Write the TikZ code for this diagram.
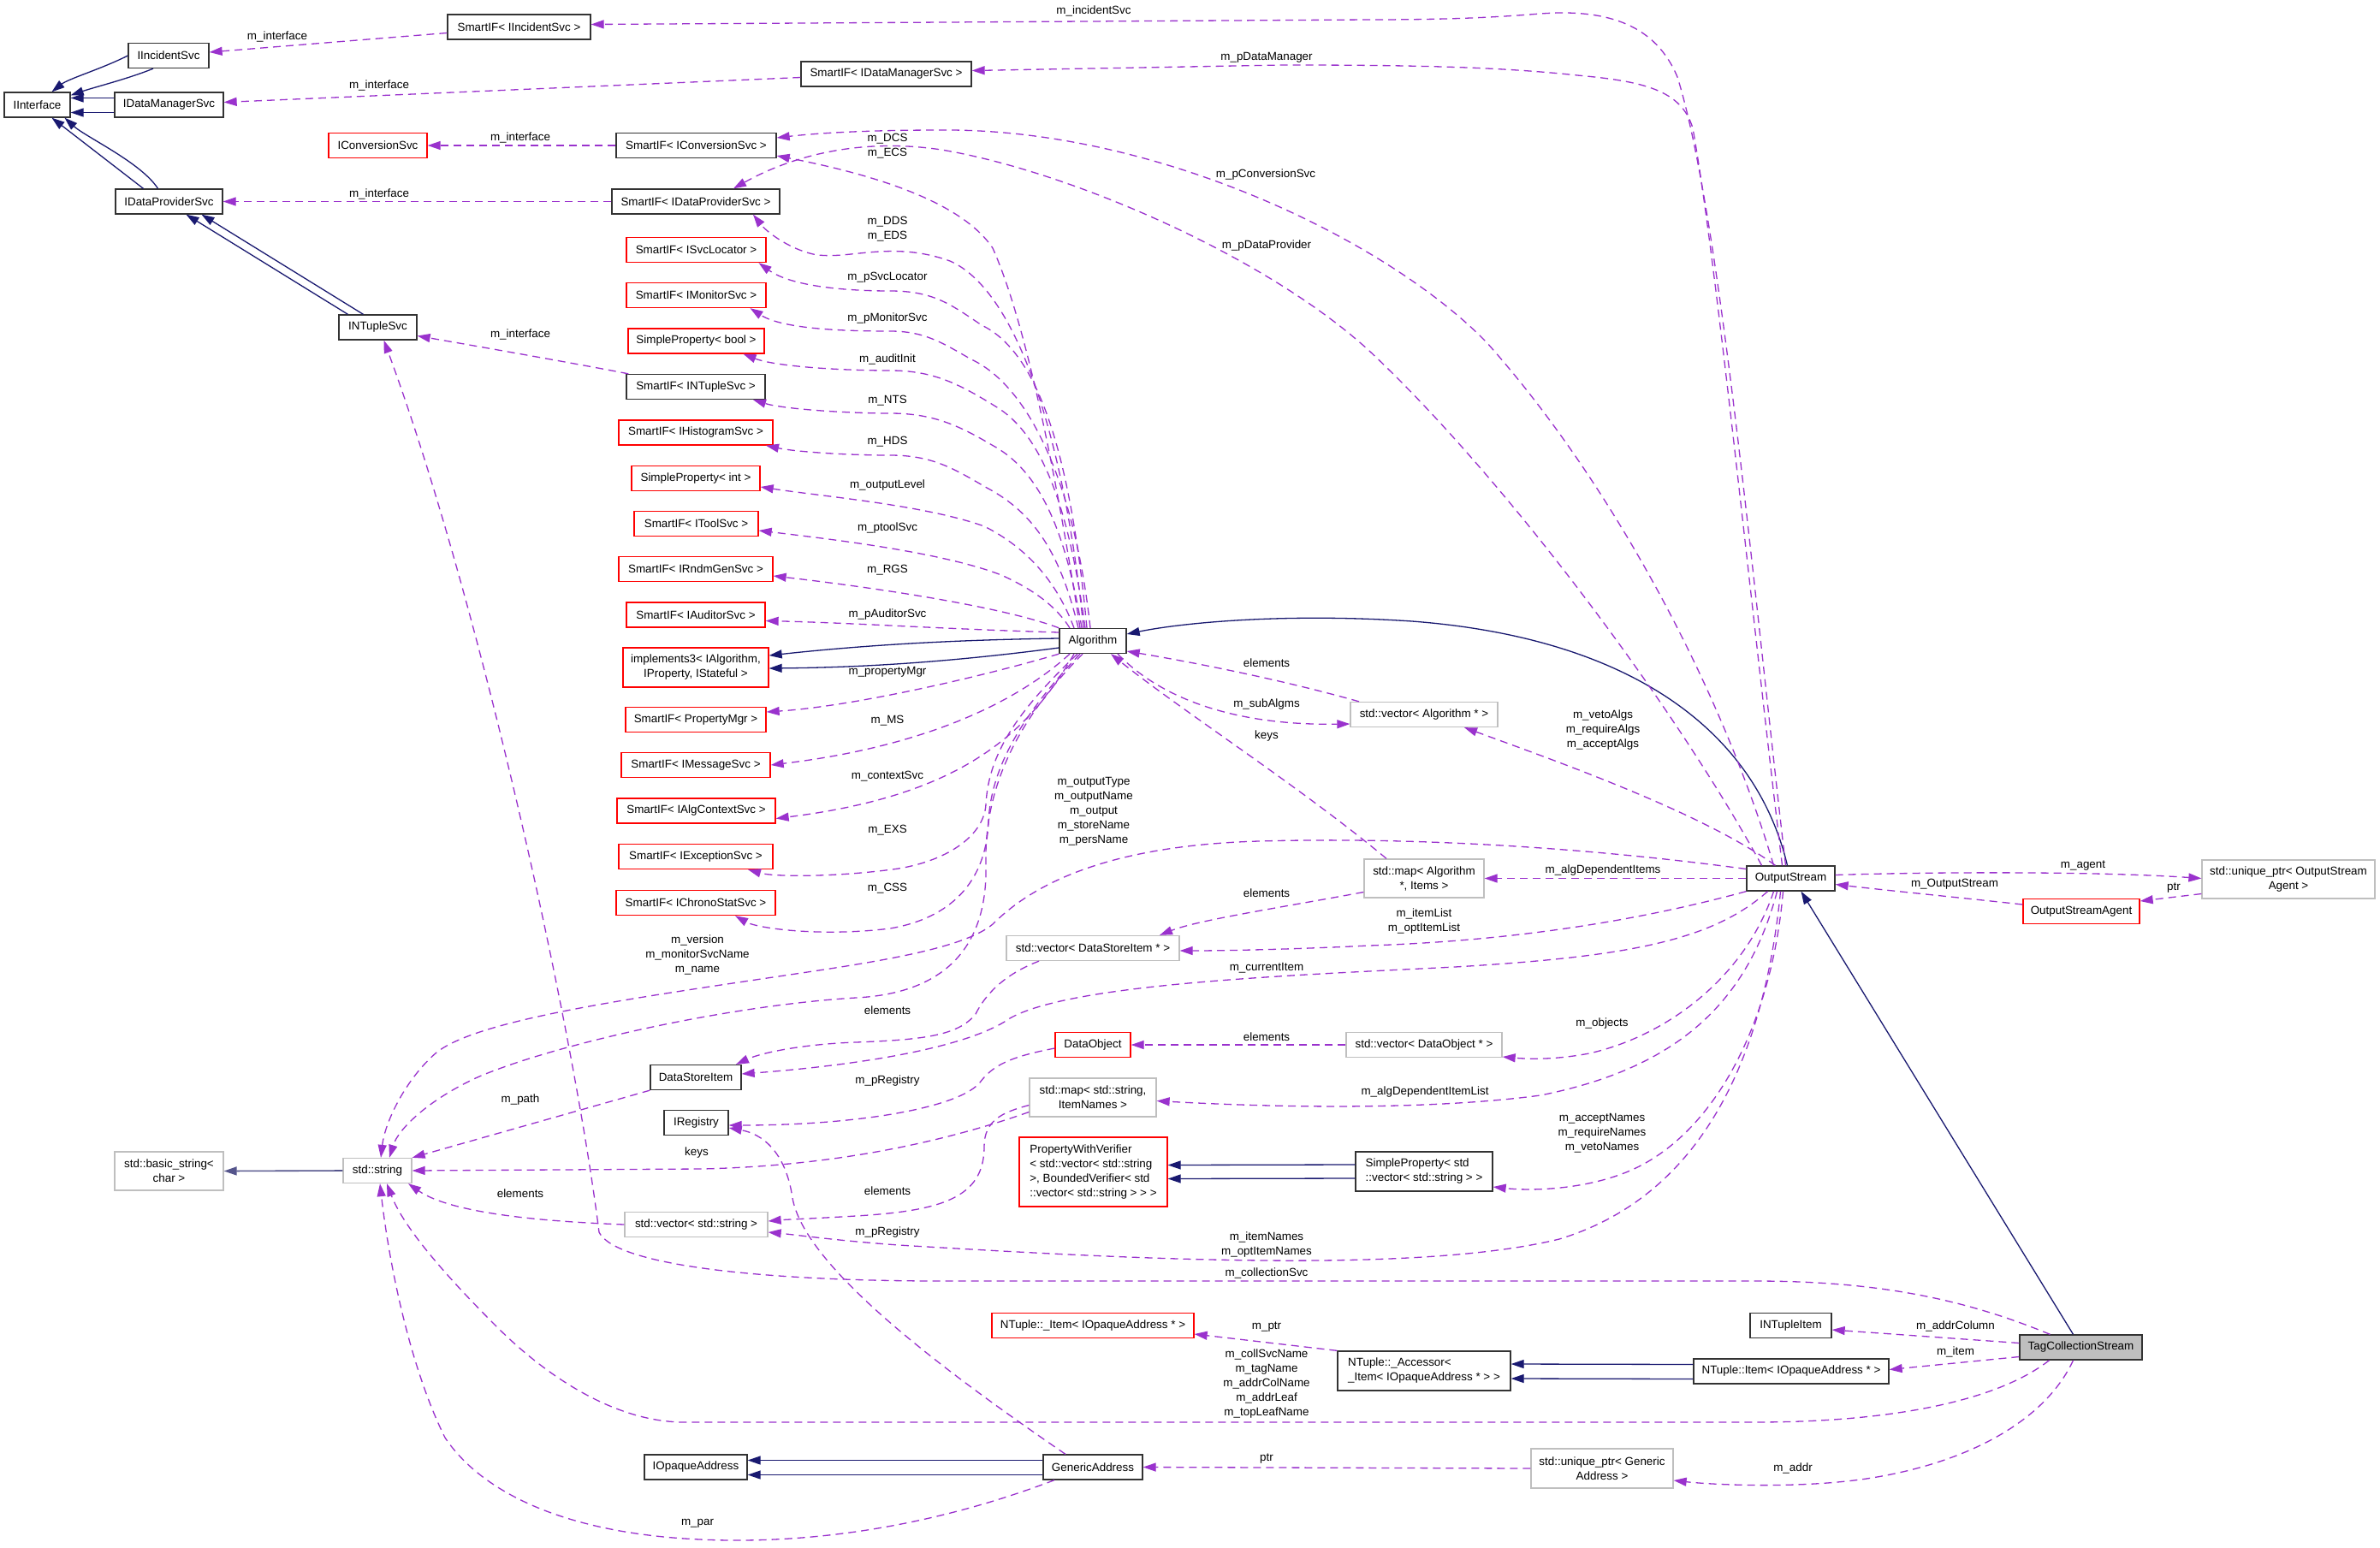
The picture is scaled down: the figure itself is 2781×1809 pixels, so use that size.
\documentclass[tikz,border=0pt]{standalone}
\usepackage{fontspec}
\setmainfont{Liberation Sans}
\usetikzlibrary{arrows.meta}
\definecolor{depc}{RGB}{154,50,205}
\definecolor{inhc}{RGB}{25,25,112}
\definecolor{strc}{RGB}{85,85,140}
\definecolor{graybd}{RGB}{191,191,191}
\definecolor{tcsfill}{RGB}{191,191,191}
\newcommand\dxfont{\fontsize{13.4pt}{17pt}\selectfont}
\begin{document}
\begin{tikzpicture}[x=1pt,y=-1pt,
  cls/.style={draw=black!80, line width=1.3pt, fill=white, inner sep=0pt, minimum height=29pt, font=\dxfont, align=center},
  redcls/.style={cls, draw=red},
  graycls/.style={cls, draw=graybd},
  dep/.style={draw=depc, line width=1.3pt, dash pattern=on 9pt off 6pt, -{Triangle[length=15pt,width=10pt]}},
  inh/.style={draw=inhc, line width=1.3pt, -{Triangle[length=15pt,width=10pt]}},
  lab/.style={font=\dxfont, inner sep=0pt, align=center},
]
\fill[white] (0,0) rectangle (2781,1809);
\useasboundingbox (0,0) rectangle (2781,1809);

% ---------------- nodes ----------------
\node[cls, minimum width=167pt] (sIncident) at (606.5,31.5) {SmartIF< IIncidentSvc >};
\node[cls, minimum width=94pt] (IIncidentSvc) at (197,65) {IIncidentSvc};
\node[cls, minimum width=77pt] (IInterface) at (43.5,122.5) {IInterface};
\node[cls, minimum width=127pt] (IDataManagerSvc) at (197.5,122.5) {IDataManagerSvc};
\node[cls, minimum width=199pt] (sDataManager) at (1035.5,86.5) {SmartIF< IDataManagerSvc >};
\node[redcls, minimum width=115pt] (IConversionSvc) at (441.5,170) {IConversionSvc};
\node[cls, minimum width=187pt] (sConversion) at (813.5,170) {SmartIF< IConversionSvc >};
\node[cls, minimum width=125pt] (IDataProviderSvc) at (197.5,235.5) {IDataProviderSvc};
\node[cls, minimum width=196pt] (sDataProvider) at (813,235.5) {SmartIF< IDataProviderSvc >};
\node[redcls, minimum width=163pt] (sSvcLocator) at (813.5,292) {SmartIF< ISvcLocator >};
\node[redcls, minimum width=163pt] (sMonitor) at (813.5,345) {SmartIF< IMonitorSvc >};
\node[redcls, minimum width=159pt] (spBool) at (813.5,398.5) {SimpleProperty< bool >};
\node[cls, minimum width=91pt] (INTupleSvc) at (441.5,382.5) {INTupleSvc};
\node[cls, minimum width=162pt] (sNTuple) at (813,452) {SmartIF< INTupleSvc >};
\node[redcls, minimum width=180pt] (sHisto) at (813,505.5) {SmartIF< IHistogramSvc >};
\node[redcls, minimum width=150pt] (spInt) at (813,559) {SimpleProperty< int >};
\node[redcls, minimum width=145pt] (sTool) at (813.5,612) {SmartIF< IToolSvc >};
\node[redcls, minimum width=180pt] (sRndm) at (813,665) {SmartIF< IRndmGenSvc >};
\node[redcls, minimum width=162pt] (sAuditor) at (813,718.5) {SmartIF< IAuditorSvc >};
\node[redcls, minimum width=170pt, minimum height=46pt] (impl3) at (813,780) {implements3< IAlgorithm,\\ IProperty, IStateful >};
\node[redcls, minimum width=164pt] (sPropMgr) at (813,841) {SmartIF< PropertyMgr >};
\node[redcls, minimum width=174pt] (sMessage) at (813,894) {SmartIF< IMessageSvc >};
\node[redcls, minimum width=185pt] (sAlgCtx) at (813.5,947.5) {SmartIF< IAlgContextSvc >};
\node[redcls, minimum width=180pt] (sExcept) at (813,1001) {SmartIF< IExceptionSvc >};
\node[redcls, minimum width=186pt] (sChrono) at (813,1055) {SmartIF< IChronoStatSvc >};
\node[cls, minimum width=78pt] (Algorithm) at (1277,749) {Algorithm};
\node[graycls, minimum width=172pt] (vecAlg) at (1664,835) {std::vector< Algorithm * >};
\node[graycls, minimum width=140pt, minimum height=45pt] (mapAlg) at (1664,1026.5) {std::map< Algorithm\\ *, Items >};
\node[cls, minimum width=103pt] (OutputStream) at (2092.5,1026.5) {OutputStream};
\node[graycls, minimum width=202pt, minimum height=45pt] (uOSA) at (2674,1027.5) {std::unique\_ptr< OutputStream\\ Agent >};
\node[redcls, minimum width=136pt] (OSAgent) at (2432,1065) {OutputStreamAgent};
\node[graycls, minimum width=202pt] (vecDSI) at (1277,1108) {std::vector< DataStoreItem * >};
\node[redcls, minimum width=88pt] (DataObject) at (1277,1221) {DataObject};
\node[graycls, minimum width=182pt] (vecDO) at (1664,1221) {std::vector< DataObject * >};
\node[graycls, minimum width=148pt, minimum height=45pt] (mapStr) at (1277,1282.5) {std::map< std::string,\\ ItemNames >};
\node[redcls, minimum width=173pt, minimum height=81pt, align=left] (PWV) at (1277.5,1369.5) {PropertyWithVerifier\\< std::vector< std::string\\>, BoundedVerifier< std\\::vector< std::string > > >};
\node[cls, minimum width=160pt, minimum height=46pt, align=left] (spVec) at (1664,1369) {SimpleProperty< std\\::vector< std::string > >};
\node[redcls, minimum width=236pt] (NItemP) at (1277,1549) {NTuple::\_Item< IOpaqueAddress * >};
\node[cls, minimum width=202pt, minimum height=46pt, align=left] (NAccessor) at (1664,1602) {NTuple::\_Accessor<\\ \_Item< IOpaqueAddress * > >};
\node[cls, minimum width=116pt] (GenericAddress) at (1277,1714.5) {GenericAddress};
\node[graycls, minimum width=166pt, minimum height=46pt] (uGA) at (1872,1716) {std::unique\_ptr< Generic\\ Address >};
\node[cls, minimum width=95pt] (INTupleItem) at (2092.5,1549) {INTupleItem};
\node[cls, minimum width=228pt] (NItem) at (2093,1602.5) {NTuple::Item< IOpaqueAddress * >};
\node[cls, minimum width=143pt, fill=tcsfill] (TCS) at (2431.5,1574.5) {TagCollectionStream};
\node[graycls, minimum width=127pt, minimum height=45pt] (basicStr) at (197.5,1368.5) {std::basic\_string<\\ char >};
\node[graycls, minimum width=80pt] (stdString) at (441,1368) {std::string};
\node[cls, minimum width=106pt] (DataStoreItem) at (813,1259) {DataStoreItem};
\node[cls, minimum width=75pt] (IRegistry) at (813.5,1312) {IRegistry};
\node[graycls, minimum width=167pt] (vecStr) at (813.5,1431) {std::vector< std::string >};
\node[cls, minimum width=120pt] (IOpaqueAddress) at (813,1714.5) {IOpaqueAddress};

% ---------------- inheritance ----------------
\draw[inh] (IIncidentSvc.west) .. controls (120,80) and (80,92) .. ([xshift=17pt]IInterface.north);
\draw[inh] ([xshift=-18pt]IIncidentSvc.south) .. controls (150,92) and (110,102) .. ([yshift=-4pt]IInterface.north east);
\draw[inh] ([yshift=8pt]IDataManagerSvc.west) -- ([yshift=8pt]IInterface.east);
\draw[inh] ([yshift=-9pt]IDataManagerSvc.west) -- ([yshift=-9pt]IInterface.east);
\draw[inh] ([xshift=-30pt]IDataProviderSvc.north) -- ([xshift=17pt]IInterface.south);
\draw[inh] ([xshift=-13pt]IDataProviderSvc.north) .. controls (165,190) and (100,160) .. ([xshift=32pt]IInterface.south);
\draw[inh] ([xshift=-35pt]INTupleSvc.north) -- ([xshift=20pt]IDataProviderSvc.south);
\draw[inh] ([xshift=-17pt]INTupleSvc.north) -- ([xshift=38pt]IDataProviderSvc.south);
\draw[inh] ([yshift=3pt]Algorithm.west) .. controls (1100,748) and (1000,755) .. ([yshift=14pt]impl3.east);
\draw[inh] ([yshift=-8pt]Algorithm.west) .. controls (1100,775) and (1000,780) .. ([yshift=-1pt]impl3.east);
\draw[inh] ([xshift=-4pt]OutputStream.north) .. controls (2050,850) and (1900,745) .. (1650,726) .. controls (1500,716) and (1380,728) .. ([yshift=8pt]Algorithm.east);
\draw[inh] ([xshift=-9pt]TCS.north) -- ([xshift=12pt]OutputStream.south);
\draw[inh, draw=strc, line width=1.6pt] (stdString.west) -- (basicStr.east);
\draw[inh] ([yshift=8pt]spVec.west) -- ([yshift=8pt]PWV.east);
\draw[inh] ([yshift=-8pt]spVec.west) -- ([yshift=-8pt]PWV.east);
\draw[inh] ([yshift=8pt]NItem.west) -- ([yshift=8pt]NAccessor.east);
\draw[inh] ([yshift=-9pt]NItem.west) -- ([yshift=-9pt]NAccessor.east);
\draw[inh] ([yshift=8pt]GenericAddress.west) -- ([yshift=8pt]IOpaqueAddress.east);
\draw[inh] ([yshift=-9pt]GenericAddress.west) -- ([yshift=-9pt]IOpaqueAddress.east);

% ---------------- usage ----------------
\draw[dep] ([yshift=-7pt]sIncident.west) -- ([yshift=4pt]IIncidentSvc.east);
\draw[dep] ([yshift=-4pt]sDataManager.west) -- ([yshift=3pt]IDataManagerSvc.east);
\draw[dep] (sConversion.west) -- (IConversionSvc.east);
\draw[dep] (sDataProvider.west) -- (IDataProviderSvc.east);
\draw[dep] ([xshift=3pt]sNTuple.north west) .. controls (690,428) and (560,405) .. ([yshift=-10pt]INTupleSvc.east);

\draw[dep] ([xshift=-6pt]OutputStream.north) .. controls (2050,700) and (2010,250) .. (1960,90) .. controls (1935,30) and (1880,10) .. (1800,16) .. controls (1750,20) and (1700,23) .. (1600,23) -- ([yshift=3pt]sIncident.east);
\draw[dep] ([xshift=-10pt]OutputStream.north) .. controls (2045,700) and (2005,300) .. (1978,150) .. controls (1965,105) and (1920,95) .. (1843,88) .. controls (1750,78) and (1650,76) .. (1500,76) -- ([yshift=4pt]sDataManager.east);
\draw[dep] ([xshift=-20pt]OutputStream.north) .. controls (2010,800) and (1880,560) .. (1737,400) .. controls (1620,280) and (1350,150) .. (1100,152) .. controls (1020,152) and (960,155) .. ([yshift=9pt]sConversion.east);
\draw[dep] ([xshift=-34pt]OutputStream.north) .. controls (1960,830) and (1760,560) .. (1600,410) .. controls (1480,300) and (1250,200) .. (1100,175) .. controls (1000,160) and (920,185) .. ([xshift=44pt]sDataProvider.north);

\draw[dep] ([xshift=-15pt]Algorithm.north) .. controls (1235,560) and (1200,380) .. (1160,290) .. controls (1120,230) and (1000,200) .. ([yshift=-12pt]sConversion.east);
\draw[dep] ([xshift=-11pt]Algorithm.north) .. controls (1245,520) and (1190,340) .. (1110,305) .. controls (1040,280) and (990,305) .. (950,297) .. controls (920,290) and (895,270) .. ([xshift=67pt]sDataProvider.south);
\draw[dep] ([xshift=-7pt]Algorithm.north) .. controls (1250,520) and (1210,410) .. (1147,380) .. controls (1110,355) and (1090,340) .. (1040,340) .. controls (990,340) and (925,335) .. ([xshift=73pt]sSvcLocator.south);
\draw[dep] ([xshift=-3pt]Algorithm.north) .. controls (1255,560) and (1200,450) .. (1135,420) .. controls (1100,400) and (1080,387) .. (1040,387) .. controls (990,387) and (915,385) .. ([xshift=63pt]sMonitor.south);
\draw[dep] ([xshift=-9pt]Algorithm.north) .. controls (1250,600) and (1220,510) .. (1165,476) .. controls (1120,448) and (1090,433) .. (1040,433) .. controls (980,433) and (905,428) .. ([xshift=55pt]spBool.south);
\draw[dep] ([xshift=-13pt]Algorithm.north) .. controls (1245,620) and (1215,550) .. (1159,520) .. controls (1120,497) and (1090,483) .. (1040,483) .. controls (990,483) and (915,478) .. ([xshift=67pt]sNTuple.south);
\draw[dep] ([xshift=-17pt]Algorithm.north) .. controls (1240,650) and (1210,600) .. (1153,570) .. controls (1115,548) and (1090,532) .. (1040,532) .. controls (990,532) and (930,528) .. ([xshift=82pt]sHisto.south);
\draw[dep] ([xshift=-22pt]Algorithm.north) .. controls (1235,680) and (1200,640) .. (1150,615) .. controls (1080,590) and (960,580) .. ([yshift=-10pt]spInt.east);
\draw[dep] ([xshift=-27pt]Algorithm.north) .. controls (1235,710) and (1210,690) .. (1170,672) .. controls (1100,645) and (970,630) .. ([yshift=-8pt]sTool.east);
\draw[dep] (Algorithm.north west) .. controls (1180,712) and (1050,690) .. ([yshift=-8pt]sRndm.east);
\draw[dep] ([yshift=10pt]Algorithm.west) .. controls (1100,735) and (1000,728) .. ([yshift=-7pt]sAuditor.east);
\draw[dep] (Algorithm.south west) .. controls (1150,790) and (1000,825) .. ([yshift=9pt]sPropMgr.east);
\draw[dep] ([xshift=-27pt]Algorithm.south) .. controls (1200,810) and (1100,870) .. (sMessage.east);
\draw[dep] ([xshift=-22pt]Algorithm.south) .. controls (1200,860) and (1120,930) .. ([yshift=-9pt]sAlgCtx.east);
\draw[dep] ([xshift=-18pt]Algorithm.south) .. controls (1190,830) and (1155,880) .. (1152,940) .. controls (1150,975) and (1110,1005) .. (1050,1015) .. controls (980,1025) and (905,1025) .. ([xshift=61pt]sExcept.south);
\draw[dep] ([xshift=-15pt]Algorithm.south) .. controls (1190,840) and (1158,900) .. (1155,960) .. controls (1152,1040) and (1100,1075) .. (1040,1085) .. controls (960,1095) and (885,1085) .. ([xshift=46pt]sChrono.south);
\draw[dep] ([xshift=-12pt]Algorithm.south) .. controls (1180,850) and (1150,930) .. (1152,1010) .. controls (1154,1090) and (1120,1160) .. (1000,1166) .. controls (850,1175) and (650,1220) .. (560,1258) .. controls (500,1285) and (465,1320) .. ([xshift=14pt]stdString.north);
\draw[dep] ([yshift=11pt]OutputStream.west) .. controls (1850,990) and (1650,978) .. (1471,983) .. controls (1300,988) and (1210,1030) .. (1160,1080) .. controls (1130,1105) and (1050,1120) .. (950,1135) .. controls (750,1165) and (560,1190) .. (510,1230) .. controls (475,1260) and (450,1310) .. ([xshift=4pt]stdString.north);

\draw[dep] (DataStoreItem.south west) -- (stdString.north east);
\draw[dep] ([yshift=-17pt]mapStr.west) .. controls (1130,1325) and (1000,1362) .. (820,1366) -- (stdString.east);
\draw[dep] ([yshift=-9pt]mapStr.west) .. controls (1170,1300) and (1150,1310) .. (1150,1340) .. controls (1150,1400) and (1100,1415) .. (1000,1421) .. controls (950,1424) and (920,1425) .. ([yshift=4pt]vecStr.east);
\draw[dep] (vecStr.west) .. controls (650,1428) and (530,1420) .. ([xshift=36pt]stdString.south);
\draw[dep] ([xshift=-37pt]TCS.south) .. controls (2330,1640) and (2200,1662) .. (2050,1662) -- (800,1662) .. controls (720,1662) and (640,1610) .. (580,1550) .. controls (510,1480) and (470,1430) .. ([xshift=11pt]stdString.south);
\draw[dep] ([xshift=-45pt]GenericAddress.south) .. controls (1100,1780) and (950,1808) .. (800,1798) .. controls (650,1788) and (560,1740) .. (520,1680) .. controls (480,1600) and (455,1480) .. ([xshift=3pt]stdString.south);
\draw[dep] ([xshift=-36pt]TCS.north) .. controls (2300,1520) and (2200,1497) .. (2050,1497) -- (1100,1497) .. controls (900,1497) and (720,1480) .. (700,1440) .. controls (670,1200) and (560,700) .. ([xshift=7pt]INTupleSvc.south);

\draw[dep] ([xshift=-12pt]OutputStream.south) .. controls (2060,1250) and (1980,1400) .. (1822,1448) .. controls (1650,1490) and (1300,1470) .. (1050,1455) .. controls (980,1450) and (930,1443) .. ([yshift=-9pt]vecStr.east);
\draw[dep] ([xshift=-9pt]OutputStream.south) .. controls (2070,1200) and (2000,1330) .. (1900,1370) .. controls (1850,1390) and (1790,1392) .. ([yshift=-18pt]spVec.east);
\draw[dep] ([xshift=-16pt]OutputStream.south) .. controls (2040,1180) and (1950,1250) .. (1800,1280) .. controls (1650,1300) and (1450,1292) .. ([yshift=-4pt]mapStr.east);
\draw[dep] ([xshift=-20pt]OutputStream.south) .. controls (2040,1140) and (1950,1210) .. (1857,1231) .. controls (1820,1238) and (1790,1238) .. ([yshift=-14pt]vecDO.east);
\draw[dep] ([xshift=-27pt]OutputStream.south) .. controls (2000,1100) and (1900,1118) .. (1700,1130) .. controls (1500,1140) and (1250,1150) .. (1180,1190) .. controls (1130,1225) and (1000,1245) .. ([yshift=4pt]DataStoreItem.east);
\draw[dep] (OutputStream.south west) .. controls (1900,1080) and (1750,1100) .. (1600,1105) .. controls (1500,1110) and (1420,1111) .. ([yshift=-3pt]vecDSI.east);
\draw[dep] ([yshift=-16pt]mapAlg.west) .. controls (1500,1060) and (1400,1075) .. ([xshift=78pt]vecDSI.north);
\draw[dep] ([xshift=-63pt]vecDSI.south) .. controls (1170,1140) and (1150,1165) .. (1140,1185) .. controls (1120,1210) and (1080,1215) .. (1000,1218) .. controls (940,1220) and (890,1230) .. ([xshift=47pt]DataStoreItem.north);
\draw[dep] ([yshift=-4pt]DataObject.west) .. controls (1180,1235) and (1160,1245) .. (1145,1265) .. controls (1120,1295) and (1000,1315) .. ([yshift=-3pt]IRegistry.east);
\draw[dep] (vecDO.west) -- (DataObject.east);
\draw[dep] ([xshift=-32pt]GenericAddress.north) .. controls (1100,1600) and (940,1480) .. (926,1400) .. controls (918,1345) and (890,1325) .. ([yshift=-6pt]IRegistry.east);
\draw[dep] (NAccessor.north west) -- ([yshift=-10pt]NItemP.east);
\draw[dep] (uGA.west) -- (GenericAddress.east);
\draw[dep] ([xshift=-9pt]TCS.south) .. controls (2390,1660) and (2300,1710) .. (2181,1728) .. controls (2100,1740) and (2000,1735) .. ([yshift=-14pt]uGA.east);
\draw[dep] ([yshift=-11pt]TCS.west) -- ([yshift=2pt]NItem.east);
\draw[dep] ([yshift=5pt]TCS.west) -- ([yshift=-5pt]INTupleItem.east);
\draw[dep] ([yshift=4pt]OutputStream.east) .. controls (2250,1019) and (2450,1018) .. ([yshift=1pt]uOSA.west);
\draw[dep] ([yshift=8pt]OSAgent.west) .. controls (2300,1050) and (2200,1040) .. ([yshift=-7pt]OutputStream.east);
\draw[dep] ([yshift=-17pt]uOSA.west) -- ([yshift=12pt]OSAgent.east);
\draw[dep] ([xshift=-18pt]OutputStream.north) .. controls (1990,950) and (1820,890) .. ([xshift=47pt]vecAlg.south);
\draw[dep] (OutputStream.west) -- (mapAlg.east);
\draw[dep] ([xshift=29pt]Algorithm.south) .. controls (1360,820) and (1450,848) .. ([yshift=-11pt]vecAlg.west);
\draw[dep] ([xshift=-76pt]vecAlg.north) .. controls (1500,795) and (1400,775) .. ([yshift=-12pt]Algorithm.east);
\draw[dep] ([xshift=-44pt]mapAlg.north) .. controls (1520,920) and (1380,830) .. ([xshift=21pt]Algorithm.south);

% ---------------- labels ----------------
\node[lab] (l1) at (324,43) {m\_interface};
\node[lab] (l2) at (443,100) {m\_interface};
\node[lab] (l3) at (608,161) {m\_interface};
\node[lab] (l4) at (443,227) {m\_interface};
\node[lab] (l5) at (608,391) {m\_interface};
\node[lab] (l6) at (1278,13) {m\_incidentSvc};
\node[lab] (l7) at (1480,67) {m\_pDataManager};
\node[lab] (l8) at (1037,171) {m\_DCS\\m\_ECS};
\node[lab] (l9) at (1479,204) {m\_pConversionSvc};
\node[lab] (l10) at (1037,268) {m\_DDS\\m\_EDS};
\node[lab] (l11) at (1480,287) {m\_pDataProvider};
\node[lab] (l12) at (1037,324) {m\_pSvcLocator};
\node[lab] (l13) at (1037,372) {m\_pMonitorSvc};
\node[lab] (l14) at (1037,420) {m\_auditInit};
\node[lab] (l15) at (1037,468) {m\_NTS};
\node[lab] (l16) at (1037,516) {m\_HDS};
\node[lab] (l17) at (1037,567) {m\_outputLevel};
\node[lab] (l18) at (1037,617) {m\_ptoolSvc};
\node[lab] (l19) at (1037,666) {m\_RGS};
\node[lab] (l20) at (1037,718) {m\_pAuditorSvc};
\node[lab] (l21) at (1037,785) {m\_propertyMgr};
\node[lab] (l22) at (1037,842) {m\_MS};
\node[lab] (l23) at (1037,907) {m\_contextSvc};
\node[lab] (l24) at (1037,970) {m\_EXS};
\node[lab] (l25) at (1037,1038) {m\_CSS};
\node[lab] (l26) at (1480,775) {elements};
\node[lab] (l27) at (1480,823) {m\_subAlgms};
\node[lab] (l28) at (1480,860) {keys};
\node[lab] (l29) at (1278,948) {m\_outputType\\m\_outputName\\m\_output\\m\_storeName\\m\_persName};
\node[lab] (l30) at (1873,853) {m\_vetoAlgs\\m\_requireAlgs\\m\_acceptAlgs};
\node[lab] (l31) at (1873,1017) {m\_algDependentItems};
\node[lab] (l32) at (1664,1077) {m\_itemList\\m\_optItemList};
\node[lab] (l33) at (1480,1044) {elements};
\node[lab] (l34) at (2434,1012) {m\_agent};
\node[lab] (l35) at (2284,1033) {m\_OutputStream};
\node[lab] (l36) at (2540,1038) {ptr};
\node[lab] (l37) at (815,1116) {m\_version\\m\_monitorSvcName\\m\_name};
\node[lab] (l38) at (1037,1181) {elements};
\node[lab] (l39) at (1480,1131) {m\_currentItem};
\node[lab] (l40) at (1872,1196) {m\_objects};
\node[lab] (l41) at (1480,1212) {elements};
\node[lab] (l42) at (1037,1263) {m\_pRegistry};
\node[lab] (l43) at (1665,1276) {m\_algDependentItemList};
\node[lab] (l44) at (608,1285) {m\_path};
\node[lab] (l45) at (1872,1324) {m\_acceptNames\\m\_requireNames\\m\_vetoNames};
\node[lab] (l46) at (814,1347) {keys};
\node[lab] (l47) at (1037,1392) {elements};
\node[lab] (l48) at (608,1395) {elements};
\node[lab] (l49) at (1037,1440) {m\_pRegistry};
\node[lab] (l50) at (1480,1455) {m\_itemNames\\m\_optItemNames};
\node[lab] (l51) at (1480,1488) {m\_collectionSvc};
\node[lab] (l52) at (2285,1550) {m\_addrColumn};
\node[lab] (l53) at (1480,1551) {m\_ptr};
\node[lab] (l54) at (2285,1580) {m\_item};
\node[lab] (l55) at (1480,1617) {m\_collSvcName\\m\_tagName\\m\_addrColName\\m\_addrLeaf\\m\_topLeafName};
\node[lab] (l56) at (1480,1705) {ptr};
\node[lab] (l57) at (2095,1716) {m\_addr};
\node[lab] (l58) at (815,1780) {m\_par};
\end{tikzpicture}
\end{document}
